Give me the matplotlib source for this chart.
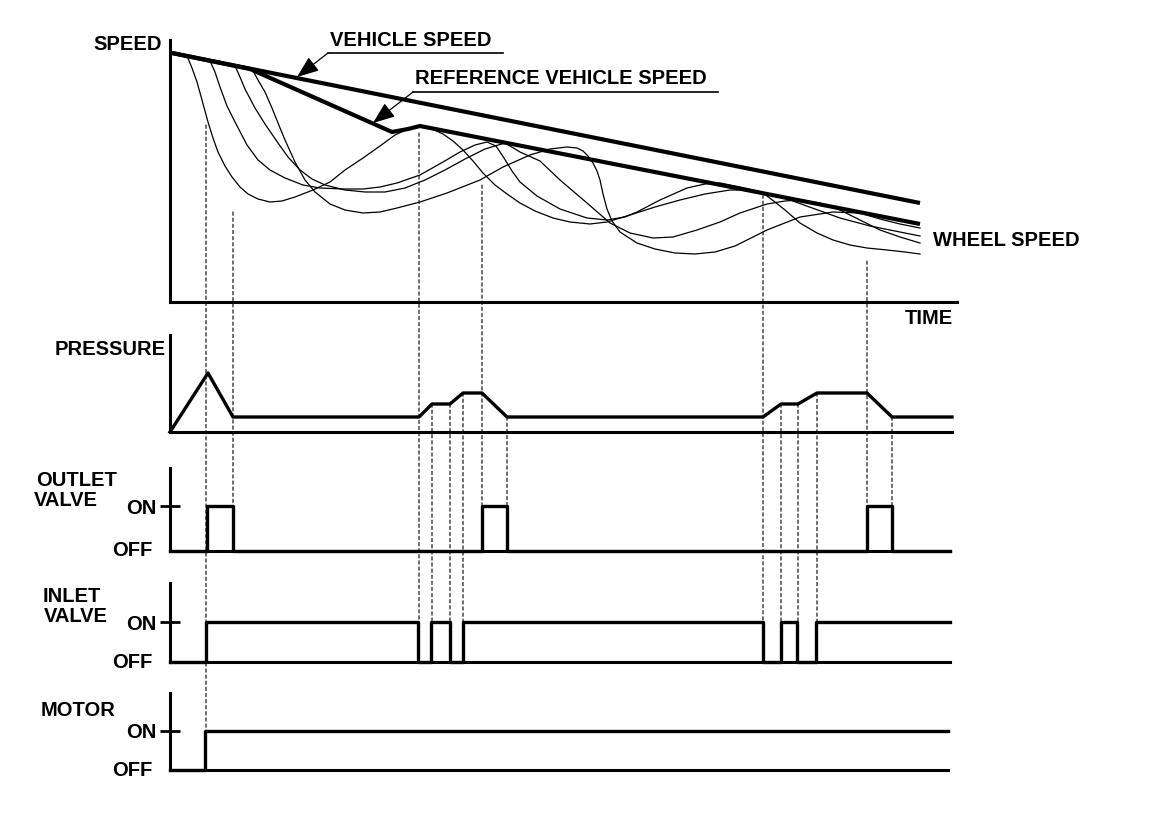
import matplotlib.pyplot as plt
from matplotlib.patches import ConnectionPatch
from matplotlib.lines import Line2D

plt.rcParams['font.family'] = ['Liberation Sans', 'DejaVu Sans']

# ---- data (time and values in arbitrary units) ----
veh_t = [2, 750]
veh_v = [249, 99]
ref_t = [2, 80, 222, 238, 250, 750]
ref_v = [249, 233, 170, 173, 176, 78]

wheel_a_t = [17, 22, 27, 32, 38, 43, 48, 55, 62, 70, 78, 88, 100, 112, 125, 143, 160, 175, 193, 210,
             225, 238, 250, 262, 273, 283, 293, 303, 313, 325, 337, 350, 365, 383, 400, 420, 437, 460,
             485, 510, 535, 560, 580, 593, 605, 615, 630, 647, 663, 680, 697, 717, 735, 750]
wheel_a_v = [246, 234, 220, 202, 180, 164, 150, 136, 125, 115, 108, 103, 100, 101, 105, 112, 120, 132, 144, 156,
             167, 173, 176, 173, 168, 161, 152, 141, 129, 117, 108, 99, 91, 84, 80, 78, 80, 87,
             95, 102, 108, 112, 112, 109, 100, 92, 79, 69, 62, 57, 54, 52, 50, 48]

wheel_b_t = [40, 45, 50, 57, 65, 77, 88, 100, 115, 133, 150, 173, 193, 210, 227, 250, 273, 290, 305, 317,
             326, 334, 342, 350, 367, 390, 417, 437, 455, 467, 490, 517, 535, 550, 570, 595, 620, 645,
             670, 700, 730, 750]
wheel_b_v = [241, 230, 215, 196, 180, 157, 142, 132, 124, 117, 114, 113, 113, 115, 119, 127, 140, 150, 157, 160,
             156, 144, 131, 120, 106, 93, 84, 82, 85, 90, 102, 114, 118, 119, 115, 109, 102, 93,
             84, 76, 70, 66]

wheel_c_t = [65, 70, 75, 85, 95, 108, 118, 130, 142, 155, 175, 195, 215, 235, 255, 275, 295, 315, 335, 350,
             370, 390, 417, 440, 460, 483, 503, 527, 550, 570, 597, 615, 630, 650, 670, 690, 710, 730, 750]
wheel_c_v = [236, 225, 213, 194, 178, 159, 145, 132, 123, 117, 112, 110, 110, 114, 122, 132, 143, 153, 159, 150,
             141, 122, 99, 79, 69, 64, 65, 72, 80, 89, 98, 101, 102, 99, 92, 82, 72, 65, 59]

wheel_d_t = [82, 88, 95, 102, 108, 115, 125, 135, 145, 160, 175, 193, 210, 227, 250, 277, 310, 333, 360, 380,
             397, 407, 413, 418, 423, 427, 430, 433, 437, 442, 450, 467, 485, 505, 525, 545, 565, 597,
             630, 663, 690, 710, 730, 750]
wheel_d_v = [233, 222, 210, 194, 179, 162, 140, 122, 110, 98, 92, 89, 90, 94, 100, 109, 122, 135, 147, 153,
             155, 154, 151, 146, 139, 131, 122, 108, 93, 81, 70, 59, 53, 49, 48, 50, 56, 72,
             85, 90, 89, 83, 78, 74]

press_t = [0, 38, 63, 249, 262, 280, 293, 312, 337, 593, 611, 628, 647, 697, 722, 782]
press_v = [0, 59, 15, 15, 28, 28, 39, 39, 15, 15, 28, 28, 39, 39, 15, 15]

# on/off signals, step "post"
outlet_t = [0, 37, 63, 312, 337, 697, 722, 780]
outlet_v = [0, 1, 0, 1, 0, 1, 0, 0]
inlet_t = [0, 36, 248, 261, 280, 293, 593, 611, 627, 646, 780]
inlet_v = [0, 1, 0, 1, 0, 1, 0, 1, 0, 1, 1]
motor_t = [0, 35, 778]
motor_v = [0, 1, 1]

# dashed guide lines: time, start panel, start value, end panel
guide_t = [36, 63, 249, 262, 280, 293, 312, 337, 593, 611, 628, 647, 697, 722]
guide_from = ['speed', 'speed', 'speed', 'press', 'press', 'press', 'speed', 'press',
              'speed', 'press', 'press', 'press', 'speed', 'press']
guide_val = [177, 90, 169, 28, 28, 39, 117, 15, 107, 28, 28, 39, 41, 15]
guide_to = ['motor', 'outlet', 'inlet', 'inlet', 'inlet', 'inlet', 'outlet', 'outlet',
            'inlet', 'inlet', 'inlet', 'inlet', 'outlet', 'outlet']

# ---- figure ----
W, H = 1152, 818
fig = plt.figure(figsize=(W / 100, H / 100), dpi=100)
FS = 14.5
AXW = 2.2


def panel(left, top, right, bottom, ymax):
    ax = fig.add_axes([left / W, 1 - bottom / H, (right - left) / W, (bottom - top) / H])
    ax.set_xlim(0, right - left)
    ax.set_ylim(0, ymax)
    ax.spines['top'].set_visible(False)
    ax.spines['right'].set_visible(False)
    ax.spines['left'].set_linewidth(AXW)
    ax.spines['bottom'].set_linewidth(AXW)
    ax.set_xticks([])
    ax.set_yticks([])
    ax.patch.set_visible(False)
    return ax


def label(x, y, s, ha='left'):
    fig.text(x / W, 1 - y / H, s, ha=ha, va='center', fontsize=FS, fontweight='bold')


ax_speed = panel(170, 40, 957, 302, 262)
ax_press = panel(170, 335, 952, 432, 97)
ax_out = panel(170, 468, 950, 551, 83 / 45)
ax_in = panel(170, 583, 950, 662, 79 / 40)
ax_mot = panel(170, 693, 948, 770, 77 / 39)
axes = {'speed': ax_speed, 'press': ax_press, 'outlet': ax_out, 'inlet': ax_in, 'motor': ax_mot}

# speed panel
for t, v in [(wheel_a_t, wheel_a_v), (wheel_b_t, wheel_b_v), (wheel_c_t, wheel_c_v), (wheel_d_t, wheel_d_v)]:
    ax_speed.plot(t, v, color='black', lw=0.9)
ax_speed.plot(veh_t, veh_v, color='black', lw=3.0, solid_capstyle='butt')
ax_speed.plot(ref_t, ref_v, color='black', lw=3.0, solid_capstyle='butt')

# label leaders with arrow heads
arrow = dict(arrowstyle='-|>,head_length=0.9,head_width=0.35', color='black', lw=0.9,
             mutation_scale=15, shrinkA=0, shrinkB=0)
ax_speed.annotate('', xy=(127, 225), xytext=(158, 249), annotation_clip=False, arrowprops=arrow)
ax_speed.annotate('', xy=(203, 179), xytext=(243, 210), annotation_clip=False, arrowprops=arrow)
fig.add_artist(Line2D([328 / W, 503 / W], [1 - 53 / H, 1 - 53 / H], color='black', lw=1.2))
fig.add_artist(Line2D([413 / W, 718 / W], [1 - 92 / H, 1 - 92 / H], color='black', lw=1.2))

# pressure
ax_press.plot(press_t, press_v, color='black', lw=2.4, clip_on=False)

# valves and motor
for ax, t, v in [(ax_out, outlet_t, outlet_v), (ax_in, inlet_t, inlet_v), (ax_mot, motor_t, motor_v)]:
    ax.step(t, v, where='post', color='black', lw=2.4, clip_on=False)
    ax.set_yticks([1])
    ax.set_yticklabels(['ON'])
    ax.tick_params(axis='y', direction='inout', length=15, width=2, pad=2, labelsize=FS)
    for lab in ax.get_yticklabels():
        lab.set_fontweight('bold')
    ax.annotate('OFF', xy=(0, 0), xytext=(-18, 0), textcoords='offset pixels',
                ha='right', va='center', fontsize=FS, fontweight='bold', annotation_clip=False)

# dashed guides across panels
for t, a, val, b in zip(guide_t, guide_from, guide_val, guide_to):
    con = ConnectionPatch(xyA=(t, val), coordsA=axes[a].transData,
                          xyB=(t, 0), coordsB=axes[b].transData,
                          color='black', lw=0.8, linestyle=(0, (3, 2.5)))
    fig.add_artist(con)

# text
label(162, 45, 'SPEED', ha='right')
label(330, 41, 'VEHICLE SPEED')
label(415, 79, 'REFERENCE VEHICLE SPEED')
label(933, 240, 'WHEEL SPEED')
label(905, 319, 'TIME')
label(166, 350, 'PRESSURE', ha='right')
label(36, 481, 'OUTLET')
label(34, 501, 'VALVE')
label(43, 597, 'INLET')
label(44, 617, 'VALVE')
label(41, 711, 'MOTOR')

fig.savefig('out.png', dpi=100)
